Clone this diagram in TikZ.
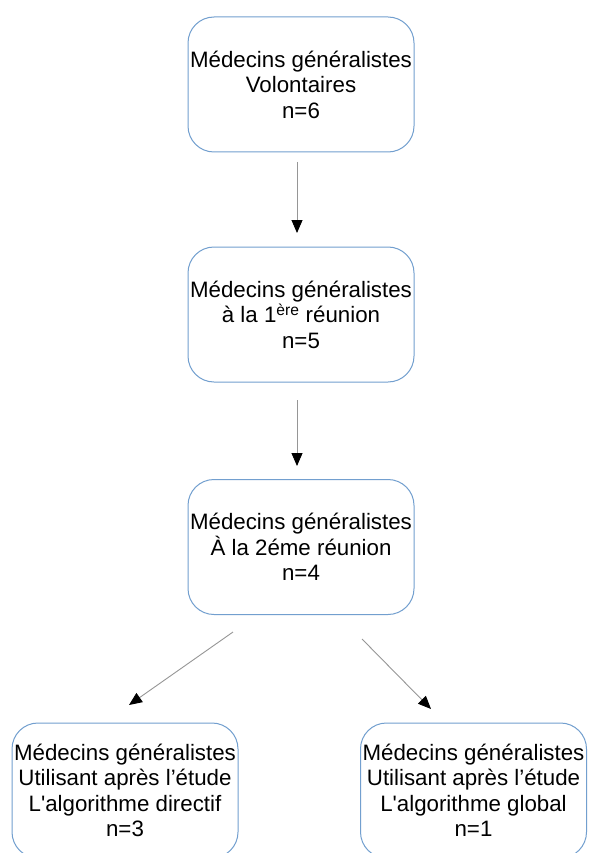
\documentclass[tikz,border=0pt]{standalone}
\usepackage{fontspec}
\setmainfont[Ligatures=TeXOff]{Liberation Sans}
\usetikzlibrary{arrows.meta}
\definecolor{boxblue}{RGB}{114,159,207}
\definecolor{linegray}{RGB}{150,150,150}
\tikzset{
  stagebox/.style={draw=boxblue, line width=1pt, rounded corners=26pt,
    minimum width=226pt, minimum height=135pt, inner sep=0pt, align=center,
    font=\fontsize{22.3}{25.5}\selectfont, text=black},
  flowarrow/.style={draw=linegray, line width=0.9pt,
    -{Triangle[color=black, length=13pt, width=11pt]}}
}
\begin{document}
\begin{tikzpicture}[x=1pt, y=1pt]
\useasboundingbox (0,0) rectangle (589,-853);
\clip (0,0) rectangle (589,-853);
\fill[white] (0,0) rectangle (589,-853);
\node[stagebox] (b1) at (301,-84.5) {Médecins généralistes\\Volontaires\\n=6};
\node[stagebox] (b2) at (301,-314.5) {Médecins généralistes\\à la 1\textsuperscript{ère} réunion\\n=5};
\node[stagebox] (b3) at (301,-547) {Médecins généralistes\\À la 2éme réunion\\n=4};
\node[stagebox] (b4) at (125,-790.5) {Médecins généralistes\\Utilisant après l’étude\\L'algorithme directif\\n=3};
\node[stagebox] (b5) at (473.5,-790.5) {Médecins généralistes\\Utilisant après l’étude\\L'algorithme global\\n=1};
\coordinate (a1s) at (297,-162);
\coordinate (a1e) at (297,-233);
\coordinate (a2s) at (297,-400);
\coordinate (a2e) at (297,-466);
\coordinate (a3s) at (233,-632);
\coordinate (a3e) at (129,-705);
\coordinate (a4s) at (362,-639);
\coordinate (a4e) at (431,-709);
\draw[flowarrow] (a1s) -- (a1e);
\draw[flowarrow] (a2s) -- (a2e);
\draw[flowarrow] (a3s) -- (a3e);
\draw[flowarrow] (a4s) -- (a4e);
\end{tikzpicture}
\end{document}
